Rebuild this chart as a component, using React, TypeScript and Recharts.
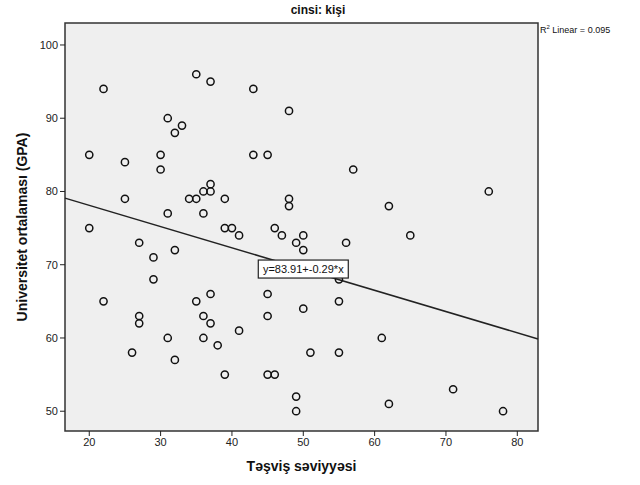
import React from 'react';
import { ScatterChart, Scatter, XAxis, YAxis, ReferenceArea, ReferenceLine, ReferenceDot } from 'recharts';

const anxiety = [
  20, 22, 20, 25, 25, 30, 30, 31, 32, 33, 35, 37, 43, 48, 43, 45, 57, 76, 62, 48,
  48, 34, 35, 36, 37, 37, 39, 31, 36, 27, 32, 39, 40, 41, 46, 47, 49, 50, 50, 56,
  65, 29, 29, 27, 27, 22, 35, 37, 45, 55, 55, 36, 37, 31, 36, 41, 38, 45, 50, 51,
  55, 61, 26, 32, 39, 45, 46, 49, 49, 71, 62, 78,
];
const gpa = [
  85, 94, 75, 84, 79, 85, 83, 90, 88, 89, 96, 95, 94, 91, 85, 85, 83, 80, 78, 79,
  78, 79, 79, 80, 81, 80, 79, 77, 77, 73, 72, 75, 75, 74, 75, 74, 73, 74, 72, 73,
  74, 71, 68, 63, 62, 65, 65, 66, 66, 65, 68, 63, 62, 60, 60, 61, 59, 63, 64, 58,
  58, 60, 58, 57, 55, 55, 55, 52, 50, 53, 51, 50,
];
const xTicks = [20, 30, 40, 50, 60, 70, 80];
const yTicks = [50, 60, 70, 80, 90, 100];
const xDomain = [16.6, 82.9];
const yDomain = [47.3, 103];
const intercept = 83.91;
const slope = -0.29;
const rSquared = '0.095';

const points = anxiety.map((x, i) => ({ x, y: gpa[i] }));
const fitY = (x: number) => intercept + slope * x;

const font = '"Liberation Sans", Arial, sans-serif';
const tickStyle = { fontFamily: font, fontSize: 11, fill: '#222' };

const OpenCircle = (props: any) => {
  const { cx, cy } = props;
  return <circle cx={cx} cy={cy} r={3.6} fill="none" stroke="#111" strokeWidth={1.5} />;
};

const EquationBox = (props: any) => {
  const { cx, cy } = props;
  return (
    <g>
      <rect x={cx - 45} y={cy - 9} width={90} height={18} fill="#fff" stroke="#222" strokeWidth={1.2} />
      <text x={cx} y={cy + 4} textAnchor="middle" fontFamily={font} fontSize={11} fill="#111">
        {`y=${intercept}+${slope}*x`}
      </text>
    </g>
  );
};

export default function App() {
  return (
    <div style={{ position: 'absolute', left: 0, top: 0, width: 640, height: 485, background: '#fff', fontFamily: font }}>
      <div style={{ position: 'absolute', left: 0, width: 636, top: 3, textAlign: 'center', fontSize: 12, fontWeight: 'bold', color: '#111' }}>
        cinsi: kişi
      </div>
      <div style={{ position: 'absolute', left: 540, top: 24, fontSize: 9, color: '#111', whiteSpace: 'nowrap' }}>
        R<sup style={{ fontSize: 6 }}>2</sup> Linear = {rSquared}
      </div>
      <div style={{ position: 'absolute', left: 65, width: 473, top: 458, textAlign: 'center', fontSize: 14, fontWeight: 'bold', color: '#111' }}>
        Təşviş səviyyəsi
      </div>
      <div
        style={{
          position: 'absolute', left: 22, top: 227, width: 0, height: 0,
        }}
      >
        <div style={{ position: 'absolute', transform: 'translate(-50%, -50%) rotate(-90deg)', whiteSpace: 'nowrap', fontSize: 14, fontWeight: 'bold', color: '#111' }}>
          Universitet ortalaması (GPA)
        </div>
      </div>
      <div style={{ position: 'absolute', left: 0, top: 0 }}>
        <ScatterChart width={640} height={485} margin={{ top: 23, right: 102, bottom: 24, left: 20 }}>
          <XAxis
            type="number"
            dataKey="x"
            domain={xDomain}
            ticks={xTicks}
            allowDataOverflow
            axisLine={false}
            tickLine={{ stroke: '#222' }}
            tickSize={5}
            tick={tickStyle}
            height={30}
          />
          <YAxis
            type="number"
            dataKey="y"
            domain={yDomain}
            ticks={yTicks}
            allowDataOverflow
            axisLine={false}
            tickLine={{ stroke: '#222' }}
            tickSize={5}
            tick={tickStyle}
            width={45}
          />
          <ReferenceArea
            x1={xDomain[0]}
            x2={xDomain[1]}
            y1={yDomain[0]}
            y2={yDomain[1]}
            fill="#efefef"
            fillOpacity={1}
            stroke="#333"
            strokeWidth={1.5}
          />
          <ReferenceLine
            segment={[
              { x: xDomain[0], y: fitY(xDomain[0]) },
              { x: xDomain[1], y: fitY(xDomain[1]) },
            ]}
            stroke="#222"
            strokeWidth={1.5}
          />
          <Scatter data={points} shape={<OpenCircle />} isAnimationActive={false} />
          <ReferenceDot x={50} y={fitY(50)} shape={<EquationBox />} />
        </ScatterChart>
      </div>
    </div>
  );
}
